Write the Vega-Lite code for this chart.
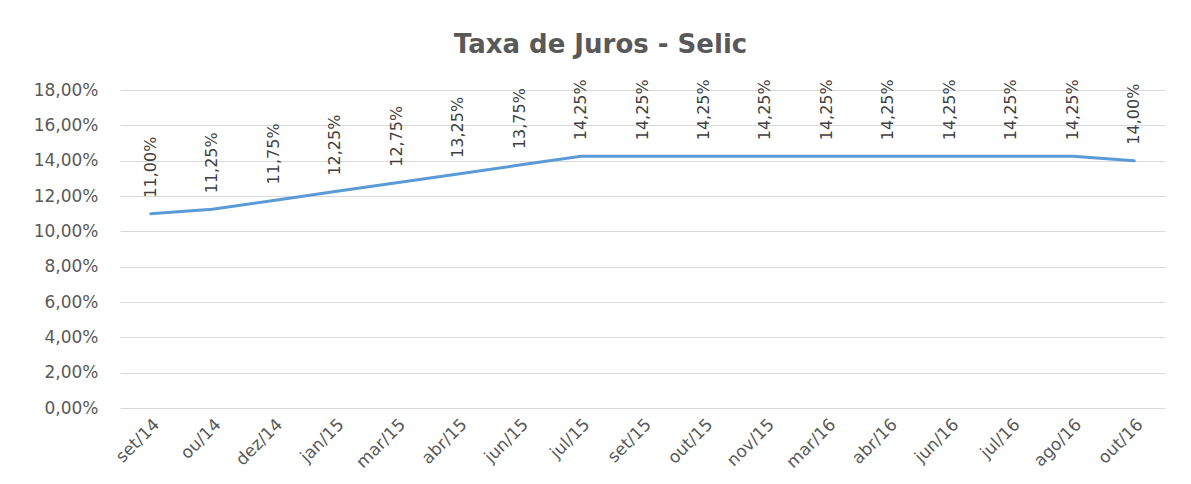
{
  "$schema": "https://vega.github.io/schema/vega-lite/v6.json",
  "autosize": {"type": "none"},
  "width": 1045,
  "height": 318,
  "padding": {"left": 120, "top": 90, "right": 26, "bottom": 76},
  "background": "white",
  "title": {
    "text": "Taxa de Juros - Selic",
    "font": "DejaVu Sans",
    "fontSize": 26,
    "fontWeight": "bold",
    "color": "#595959",
    "offset": 21,
    "dx": -42
  },
  "config": {
    "locale": {"number": {"decimal": ",", "thousands": ".", "grouping": [3], "currency": ["R$", ""]}},
    "view": {"stroke": null},
    "font": "DejaVu Sans"
  },
  "data": {
    "values": [
      {"mes": "set/14", "selic": 0.11},
      {"mes": "ou/14", "selic": 0.1125},
      {"mes": "dez/14", "selic": 0.1175},
      {"mes": "jan/15", "selic": 0.1225},
      {"mes": "mar/15", "selic": 0.1275},
      {"mes": "abr/15", "selic": 0.1325},
      {"mes": "jun/15", "selic": 0.1375},
      {"mes": "jul/15", "selic": 0.1425},
      {"mes": "set/15", "selic": 0.1425},
      {"mes": "out/15", "selic": 0.1425},
      {"mes": "nov/15", "selic": 0.1425},
      {"mes": "mar/16", "selic": 0.1425},
      {"mes": "abr/16", "selic": 0.1425},
      {"mes": "jun/16", "selic": 0.1425},
      {"mes": "jul/16", "selic": 0.1425},
      {"mes": "ago/16", "selic": 0.1425},
      {"mes": "out/16", "selic": 0.14}
    ]
  },
  "encoding": {
    "x": {
      "field": "mes", "type": "nominal", "sort": null, "title": null,
      "scale": {"paddingInner": 0, "paddingOuter": 0.5},
      "axis": {"labelAngle": -45, "labelFontSize": 17, "labelColor": "#595959", "domain": false, "ticks": false, "labelPadding": 8, "grid": false}
    },
    "y": {
      "field": "selic", "type": "quantitative", "title": null,
      "scale": {"domain": [0, 0.18], "nice": false},
      "axis": {"format": ".2%", "values": [0, 0.02, 0.04, 0.06, 0.08, 0.1, 0.12, 0.14, 0.16, 0.18], "labelFontSize": 17, "labelColor": "#595959", "domain": false, "ticks": false, "labelPadding": 22, "gridColor": "#D9D9D9", "gridWidth": 1}
    }
  },
  "layer": [
    {"mark": {"type": "line", "color": "#5B9BD5", "strokeWidth": 3, "strokeCap": "round"}},
    {
      "mark": {"type": "text", "angle": -90, "align": "left", "baseline": "middle", "dx": 16, "fontSize": 16, "color": "#404040"},
      "encoding": {"text": {"field": "selic", "type": "quantitative", "format": ".2%"}}
    }
  ]
}
